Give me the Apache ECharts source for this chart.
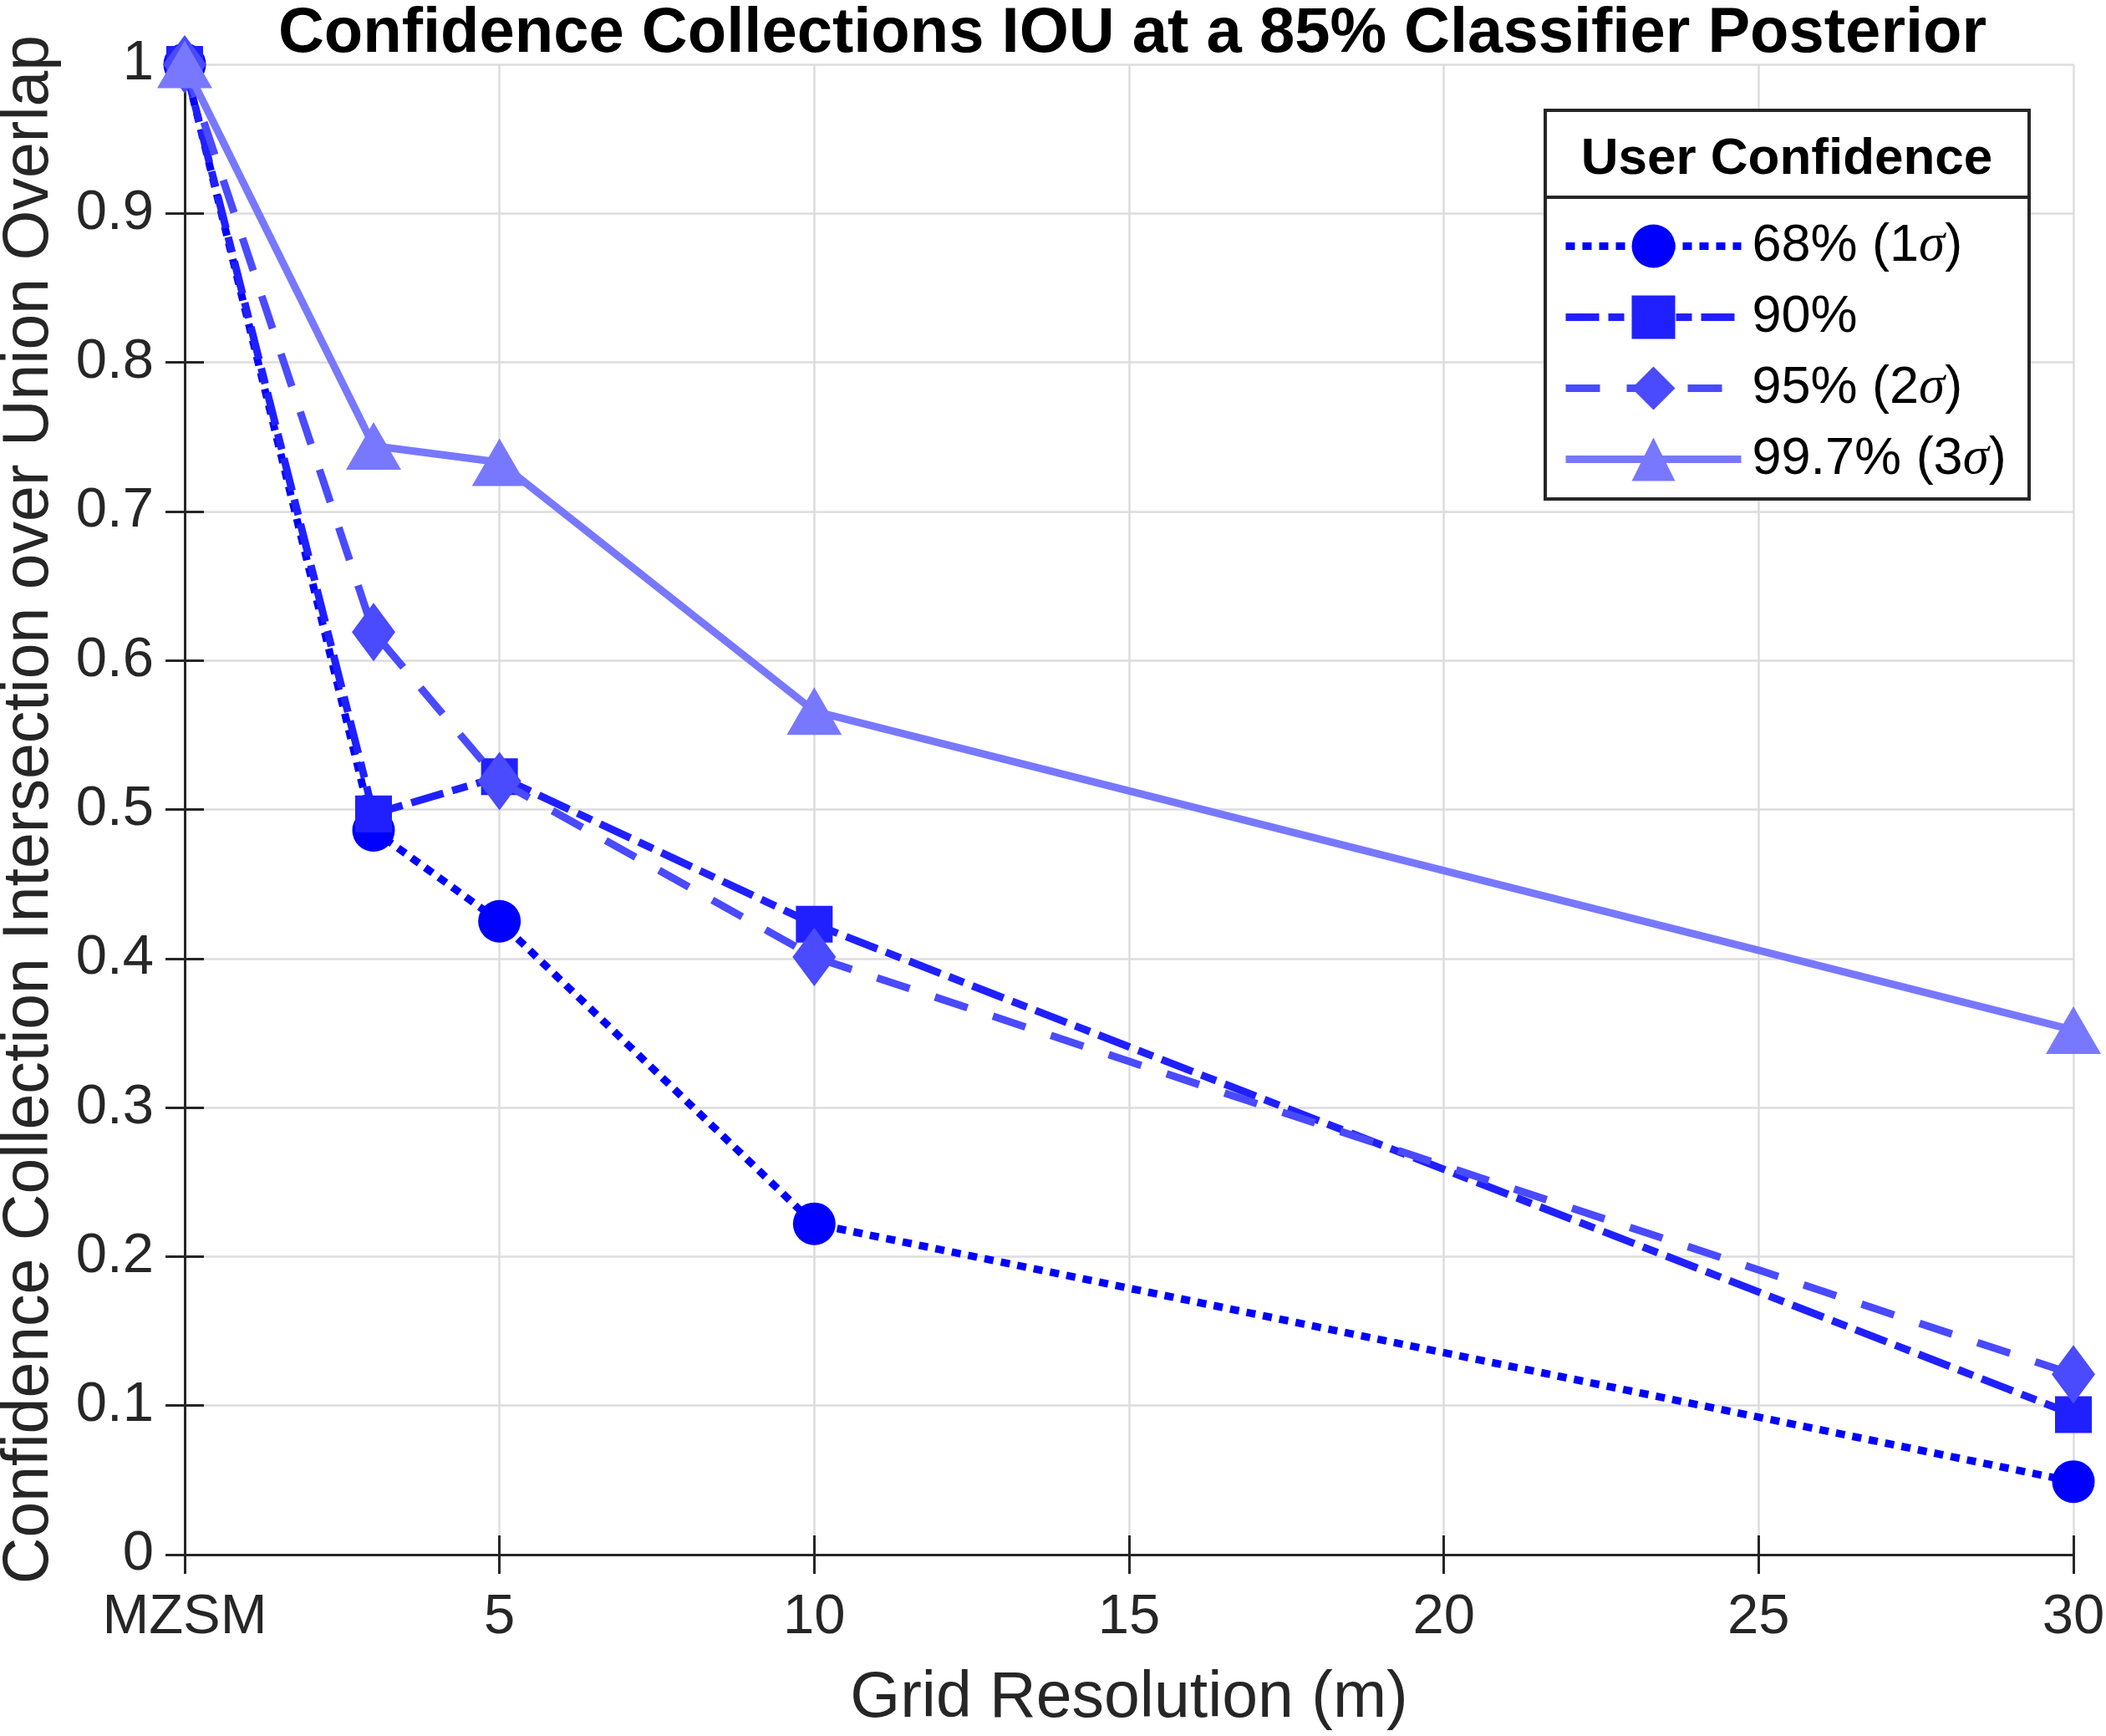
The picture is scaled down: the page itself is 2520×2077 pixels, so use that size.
<!DOCTYPE html>
<html>
<head>
<meta charset="utf-8">
<script src="https://cdn.jsdelivr.net/npm/echarts@6/dist/echarts.min.js"></script>
<style>
  html, body { margin: 0; padding: 0; background: #fff; }
  #chart { width: 2520px; height: 2077px; }
</style>
</head>
<body>
<div id="chart"></div>
<script>
// grid resolution (m), 0 is the MZSM case
const resolutions = [0, 3, 5, 10, 30]
const xTickLabels = ['MZSM', '5', '10', '15', '20', '25', '30']
const seriesNames = ['68% (1σ)', '90%', '95% (2σ)', '99.7% (3σ)']
const iou68 = [1.0, 0.486, 0.425, 0.222, 0.049]
const iou90 = [1.0, 0.497, 0.522, 0.423, 0.094]
const iou95 = [1.0, 0.619, 0.519, 0.401, 0.121]
const iou997 = [1.0, 0.744, 0.733, 0.566, 0.352]

const FONT = 'Liberation Sans'
const AXIS_COLOR = '#262626'

const chart = echarts.init(document.getElementById('chart'))

function pairs(ys) {
    return resolutions.map((x, i) => [x, ys[i]])
}

function makeSeries(name, ys, color, lineType, symbol, symbolSize, z) {
    return {
        name: name,
        type: 'line',
        data: pairs(ys),
        symbol: symbol,
        symbolSize: symbolSize,
        showSymbol: true,
        clip: false,
        z: z,
        itemStyle: { color: color, borderWidth: 0 },
        lineStyle: { color: color, width: 9, type: lineType, cap: 'butt' },
        emphasis: { disabled: true }
    }
}

const tickStyle = { show: true, inside: true, length: 23, lineStyle: { color: AXIS_COLOR, width: 3 } }
const gridLine = { show: true, lineStyle: { color: '#dddddd', width: 2.5 } }

const boxAxis = {
    axisLine: { show: true, lineStyle: { color: AXIS_COLOR, width: 3 } },
    axisTick: tickStyle,
    axisLabel: { show: false },
    splitLine: { show: false }
}

chart.setOption({
    animation: false,
    backgroundColor: '#fff',
    title: {
        text: 'Confidence Collections IOU at a 85% Classifier Posterior',
        left: 1350,
        textAlign: 'center',
        top: -2,
        textStyle: { fontFamily: FONT, fontWeight: 'bold', fontSize: 76, color: '#000' }
    },
    grid: { left: 221, right: 39, top: 77, bottom: 217, outerBoundsMode: 'none' },
    xAxis: [
        {
            type: 'value',
            min: 0,
            max: 30,
            interval: 5,
            name: 'Grid Resolution (m)',
            nameLocation: 'middle',
            nameGap: 134,
            nameMoveOverlap: false,
            nameTextStyle: { fontFamily: FONT, fontSize: 77, color: AXIS_COLOR },
            axisLine: { show: true, onZero: false, lineStyle: { color: AXIS_COLOR, width: 3 } },
            axisTick: tickStyle,
            axisLabel: {
                fontFamily: FONT, fontSize: 67, color: AXIS_COLOR, margin: 42,
                formatter: (v) => xTickLabels[Math.round(v / 5)]
            },
            splitLine: gridLine
        },
        Object.assign({ type: 'value', min: 0, max: 30, interval: 5, position: 'top' }, boxAxis)
    ],
    yAxis: [
        {
            type: 'value',
            min: 0,
            max: 1,
            interval: 0.1,
            name: 'Confidence Collection Intersection over Union Overlap',
            nameLocation: 'middle',
            nameGap: 147,
            nameMoveOverlap: false,
            nameTextStyle: { fontFamily: FONT, fontSize: 77, color: AXIS_COLOR },
            axisLine: { show: true, lineStyle: { color: AXIS_COLOR, width: 3 } },
            axisTick: tickStyle,
            axisLabel: { fontFamily: FONT, fontSize: 67, color: AXIS_COLOR, margin: 37 },
            splitLine: gridLine
        },
        Object.assign({ type: 'value', min: 0, max: 1, interval: 0.1, position: 'right' }, boxAxis)
    ],
    legend: {
        orient: 'vertical',
        left: 1869,
        top: 263,
        padding: 0,
        itemWidth: 210,
        itemHeight: 65,
        itemGap: 22,
        z: 6,
        data: seriesNames,
        lineStyle: { width: 9 },
        formatter: (name) => name.replace('σ', '{s|σ}'),
        textStyle: {
            fontFamily: FONT, fontSize: 63, color: '#000', padding: [0, 0, 0, 8],
            rich: {
                s: { fontFamily: 'Liberation Serif', fontStyle: 'italic', fontSize: 63, color: '#000' }
            }
        }
    },
    graphic: [
        {
            type: 'rect',
            z: 5,
            shape: { x: 1849, y: 132, width: 579, height: 465 },
            style: { fill: '#fff', stroke: AXIS_COLOR, lineWidth: 4 }
        },
        {
            type: 'line',
            z: 5,
            shape: { x1: 1849, y1: 236, x2: 2428, y2: 236 },
            style: { stroke: AXIS_COLOR, lineWidth: 4 }
        },
        {
            type: 'text',
            z: 6,
            x: 2138,
            y: 191,
            style: {
                text: 'User Confidence',
                fontFamily: FONT, fontWeight: 'bold', fontSize: 62, fill: '#000',
                align: 'center', verticalAlign: 'middle'
            }
        }
    ],
    series: [
        makeSeries(seriesNames[0], iou68, '#0000ff', [11, 9], 'circle', 51, 2),
        makeSeries(seriesNames[1], iou90, '#2020ff', [40, 11, 19, 11], 'rect', 44, 3),
        makeSeries(seriesNames[2], iou95, '#4a4aff', [41, 32], 'diamond', [52, 70], 4),
        makeSeries(seriesNames[3], iou997, '#7878ff', 'solid', 'triangle', [66, 57], 5)
    ]
})
</script>
</body>
</html>
